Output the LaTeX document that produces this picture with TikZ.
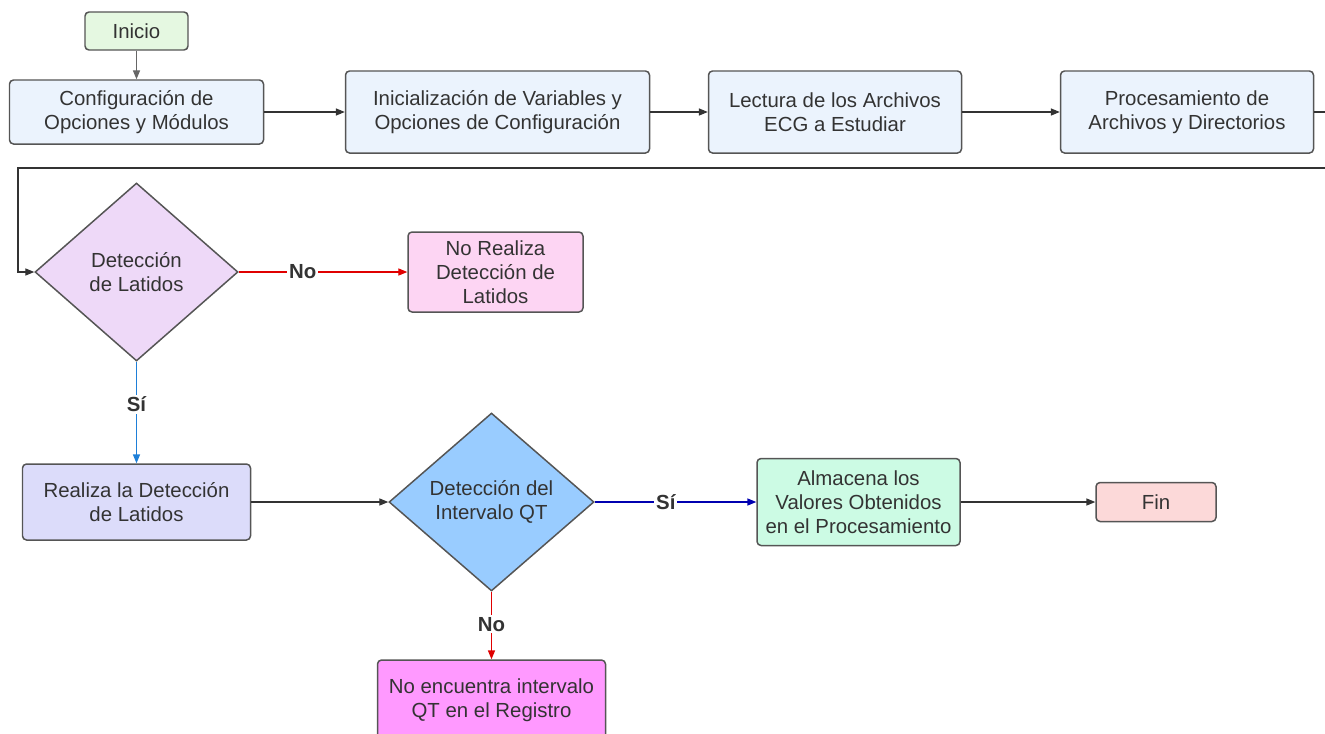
\documentclass[tikz,border=0pt]{standalone}
\usepackage{fontspec}
\setmainfont{Liberation Sans}
\usetikzlibrary{shapes.geometric, positioning, arrows.meta}

\definecolor{borde}{HTML}{555555}
\definecolor{texto}{HTML}{333333}
\definecolor{verdeini}{HTML}{E5F8E1}
\definecolor{azulcaja}{HTML}{EBF3FD}
\definecolor{lilarombo}{HTML}{EED9F8}
\definecolor{rosacaja}{HTML}{FDD5F3}
\definecolor{lavanda}{HTML}{DCDCFA}
\definecolor{celeste}{HTML}{99CCFF}
\definecolor{menta}{HTML}{CCFBE4}
\definecolor{rosafin}{HTML}{FCD9D9}
\definecolor{magenta}{HTML}{FF99FF}
\definecolor{rojo}{HTML}{E00000}
\definecolor{azulsi}{HTML}{1E7FD8}
\definecolor{azuloscuro}{HTML}{0000B0}

\begin{document}
\begin{tikzpicture}[>={Triangle[length=5pt,width=4pt]}, node distance=7cm, on grid,
	font=\fontsize{11.6}{13.8}\selectfont, text=texto,
	caja/.style={draw=borde, line width=0.85pt, rounded corners=2.3pt, align=center, inner sep=0pt},
	decision/.style={diamond, draw=borde, line width=0.85pt, align=center, inner sep=0pt, minimum width=4.06cm, minimum height=3.56cm},
	flecha/.style={line width=0.6pt, draw=texto},
	etiqueta/.style={fill=white, inner sep=1pt, text=texto, font=\fontsize{11.6}{13.8}\selectfont\bfseries}]
	\useasboundingbox (0,0) rectangle (26.5,-14.66);
	\clip (0,0) rectangle (26.5,-14.66);
	
	\node[caja, fill=verdeini, minimum width=2.06cm, minimum height=0.76cm] (inicio) at (2.73,-0.62) {Inicio};
	\node[caja, fill=azulcaja, minimum width=5.08cm, minimum height=1.28cm] (config) [below=1.62cm of inicio] {Configuración de\\Opciones y Módulos};
	\node[caja, fill=azulcaja, minimum width=6.08cm, minimum height=1.64cm] (inicial) [right=7.22cm of config] {Inicialización de Variables y\\Opciones de Configuración};
	\node[caja, fill=azulcaja, minimum width=5.06cm, minimum height=1.64cm] (lectura) [right=6.75cm of inicial] {Lectura de los Archivos\\ECG a Estudiar};
	\node[caja, fill=azulcaja, minimum width=5.06cm, minimum height=1.64cm] (proceso) [right=7.04cm of lectura] {Procesamiento de\\Archivos y Directorios};
	\node[decision, fill=lilarombo] (latidos) [below=3.2cm of config] {Detección\\de Latidos};
	\node[caja, fill=rosacaja, minimum width=3.5cm, minimum height=1.6cm] (norealiza) [right=7.18cm of latidos] {No Realiza\\Detección de\\Latidos};
	\node[caja, fill=lavanda, minimum width=4.56cm, minimum height=1.52cm] (realiza) [below=4.6cm of latidos] {Realiza la Detección\\de Latidos};
	\node[decision, fill=celeste, minimum width=4.1cm] (qt) [right=7.1cm of realiza] {Detección del\\Intervalo QT};
	\node[caja, fill=menta, minimum width=4.06cm, minimum height=1.74cm] (almacena) [right=7.34cm of qt] {Almacena los\\Valores Obtenidos\\en el Procesamiento};
	\node[caja, fill=rosafin, minimum width=2.4cm, minimum height=0.78cm] (fin) [right=5.95cm of almacena] {Fin};
	\node[caja, fill=magenta, minimum width=4.56cm, minimum height=1.6cm] (noencuentra) [below=3.96cm of qt] {No encuentra intervalo\\QT en el Registro};
	
	\coordinate (retorno) at (0.36,-3.36);
	
	\path[->]
	(inicio) edge[flecha, draw=borde!90] (config)
	(config) edge[flecha] (inicial)
	(inicial) edge[flecha] (lectura)
	(lectura) edge[flecha] (proceso)
	(latidos) edge[flecha, draw=rojo] node[etiqueta, pos=0.38] {No} (norealiza)
	(latidos) edge[flecha, draw=azulsi] node[etiqueta, pos=0.42] {Sí} (realiza)
	(realiza) edge[flecha] (qt)
	(qt) edge[flecha, draw=azuloscuro] node[etiqueta, pos=0.44] {Sí} (almacena)
	(almacena) edge[flecha] (fin)
	(qt) edge[flecha, draw=rojo] node[etiqueta, pos=0.48] {No} (noencuentra)
	;
	\draw[flecha, ->] (proceso.east) -- ++(0.6,0) |- (retorno) |- (latidos.west);
	
\end{tikzpicture}
\end{document}
